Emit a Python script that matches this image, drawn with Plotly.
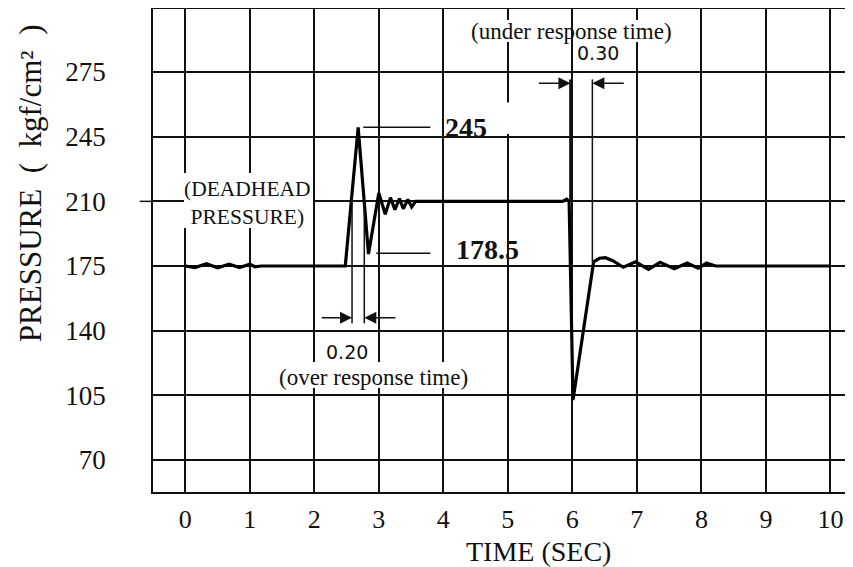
import plotly.graph_objects as go

# pressure trace (time in s, pressure in kgf/cm2)
time_s = [0.0, 0.15, 0.33, 0.50, 0.68, 0.84, 1.00, 1.08, 1.18,
          2.48, 2.68, 2.84, 3.00, 3.10, 3.18, 3.25, 3.32, 3.38, 3.45, 3.51, 3.57,
          5.85, 5.91, 5.95, 6.01, 6.33, 6.42, 6.51, 6.62, 6.79, 6.98, 7.18, 7.36,
          7.58, 7.78, 7.95, 8.08, 8.22, 10.0]
pressure = [175, 174.2, 176.2, 174.0, 176.0, 174.2, 176.0, 174.6, 175,
            175, 250, 181.5, 214.5, 203, 212, 205.5, 211.5, 206, 211, 207, 210,
            210, 211.2, 210, 102.5, 177.3, 179.2, 179.5, 178, 174.3, 177.3, 173.2, 177,
            173.5, 176.6, 173.8, 176.6, 175, 175]

x_ticks = list(range(0, 11))
y_ticks = [70, 105, 140, 175, 210, 245, 280]
y_tick_text = ["70", "105", "140", "175", "210", "245", "275"]

# response-time markers
over_t = [2.585, 2.775]
under_t = [5.97, 6.31]

SERIF = "Liberation Serif, Times New Roman, serif"
SANS = "DejaVu Sans, sans-serif"
INK = "#111111"

fig = go.Figure()

fig.add_trace(go.Scatter(
    x=time_s, y=pressure, mode="lines",
    line=dict(color="black", width=3.2),
    showlegend=False, hoverinfo="skip"
))

shapes = []
# white patches hiding grid behind the labels
for x0, x1, y0, y1 in [(-0.02, 1.98, 195.6, 225.3),
                       (4.47, 5.89, 296.2, 308.1),
                       (6.12, 7.52, 296.2, 308.1),
                       (4.88, 5.13, 246.5, 263.5),
                       (1.47, 4.36, 109.0, 123.0)]:
    shapes.append(dict(type="rect", xref="x", yref="y", x0=x0, x1=x1, y0=y0, y1=y1,
                       fillcolor="white", line=dict(width=0), layer="between"))

line_style = dict(color=INK, width=1.5)
# leader lines for peak / dip labels
shapes.append(dict(type="line", xref="x", yref="y", x0=2.76, x1=3.80, y0=250.1, y1=250.1, line=line_style))
shapes.append(dict(type="line", xref="x", yref="y", x0=2.96, x1=3.80, y0=181.9, y1=181.9, line=line_style))
# over response time verticals
shapes.append(dict(type="line", xref="x", yref="y", x0=over_t[0], x1=over_t[0], y0=144, y1=214, line=line_style))
shapes.append(dict(type="line", xref="x", yref="y", x0=over_t[1], x1=over_t[1], y0=144, y1=212, line=line_style))
# under response time verticals
shapes.append(dict(type="line", xref="x", yref="y", x0=under_t[0], x1=under_t[0], y0=210, y1=276, line=dict(color=INK, width=2.5)))
shapes.append(dict(type="line", xref="x", yref="y", x0=under_t[1], x1=under_t[1], y0=177, y1=276, line=line_style))
# small tick left of axis at 210
shapes.append(dict(type="line", xref="paper", yref="y", x0=-0.019, x1=0, y0=210, y1=210, line=line_style))

fig.update_layout(shapes=shapes)

arrow = dict(showarrow=True, text="", axref="x", ayref="y", arrowhead=2, arrowsize=1.6,
             arrowwidth=1.5, arrowcolor=INK, standoff=0)
fig.add_annotation(x=over_t[0], y=147, ax=2.093, ay=147, **arrow)
fig.add_annotation(x=over_t[1], y=147, ax=3.28, ay=147, **arrow)
fig.add_annotation(x=under_t[0], y=273.9, ax=5.457, ay=273.9, **arrow)
fig.add_annotation(x=under_t[1], y=273.9, ax=6.82, ay=273.9, **arrow)

def label(x, y, text, size, family=SERIF, bold=False):
    fig.add_annotation(x=x, y=y, xref="x", yref="y", showarrow=False,
                       xanchor="center", yanchor="middle",
                       text=f"<b>{text}</b>" if bold else text,
                       font=dict(family=family, size=size, color=INK))

label(4.357, 250.2, "245", 28, bold=True)
label(4.69, 183.7, "178.5", 28, bold=True)
label(0.96, 209.1, "(DEADHEAD<br>PRESSURE)", 21.5)
label(5.98, 301.8, "(under response time)", 23)
label(6.40, 290.3, "0.30", 19, family=SANS)
label(2.51, 128.6, "0.20", 19, family=SANS)
label(2.915, 114.9, "(over response time)", 23)

# axis titles
fig.add_annotation(x=-0.1757, y=0.6395, xref="paper", yref="paper", showarrow=False,
                   xanchor="center", yanchor="middle",
                   text="PRESSURE  (  kgf/cm²  )", textangle=-90,
                   font=dict(family=SERIF, size=31, color=INK))
fig.add_annotation(x=0.55, y=-0.124, xref="paper", yref="paper", showarrow=False,
                   xanchor="center", yanchor="middle",
                   text="TIME (SEC)", font=dict(family=SERIF, size=28, color=INK))

fig.update_xaxes(
    range=[-0.5, 10.35], tickvals=x_ticks, ticktext=[str(v) for v in x_ticks],
    showgrid=True, gridcolor=INK, gridwidth=1.5, zeroline=False,
    showline=True, linecolor=INK, linewidth=1.5, mirror=True, ticks="",
    ticklabelstandoff=3, tickfont=dict(family=SERIF, size=26, color=INK)
)
fig.update_yaxes(
    range=[52.7, 314.1], tickvals=y_ticks, ticktext=y_tick_text,
    showgrid=True, gridcolor=INK, gridwidth=1.5, zeroline=False,
    showline=True, linecolor=INK, linewidth=1.5, mirror=False, ticks="",
    ticklabelstandoff=40, tickfont=dict(family=SERIF, size=27, color=INK)
)

fig.update_layout(
    width=845, height=559,
    margin=dict(l=145, r=0, t=1, b=75),
    plot_bgcolor="white", paper_bgcolor="white"
)

fig.write_html("out.html")
